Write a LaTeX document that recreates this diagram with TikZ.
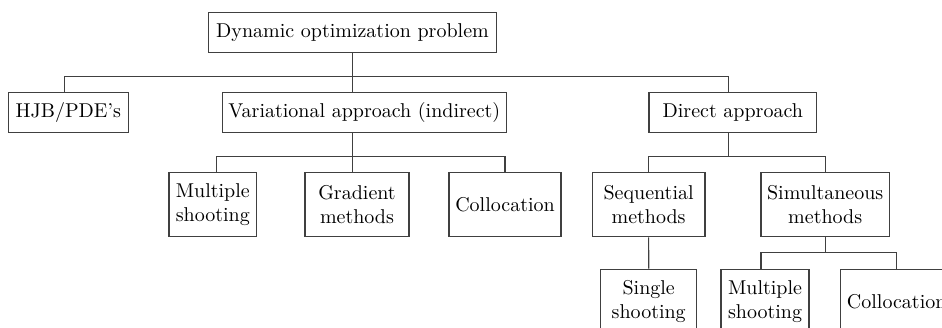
\documentclass[tikz,border=0pt]{standalone}
\usepackage{tikz}
\usetikzlibrary{
  calc,
  positioning
}

\begin{document}
\begin{tikzpicture}
  \tikzset{
    box/.style={
      draw=black!75,line width=0.6pt,align=center,inner sep=3pt,
      minimum height=20pt
    },
    tallbox/.style={
      box,minimum height=32pt
    },
    link/.style={
      draw=black!75,line width=0.6pt
    },
  }
  \useasboundingbox (0,0) rectangle (471pt,-163.5pt);
  \clip (0,0) rectangle (471pt,-163.5pt);

  % top
  \node[box,minimum width=144.2pt] (dop) at (176.25pt,-16.35pt)
  {Dynamic optimization problem};

  % first level
  \node[box,minimum width=60pt] (hjb) at (34.15pt,-56.35pt) {HJB/PDE's};
  \node[box,minimum width=140pt] (var) at (182.15pt,-56.35pt)
  {Variational approach (indirect)};
  \node[box,minimum width=83.85pt] (dir) at (366.4pt,-56.35pt)
  {Direct approach};

  % second level
  \node[tallbox,minimum width=43.85pt] (ms1) at (106.4pt,-102.35pt)
  {Multiple\\shooting};
  \node[tallbox,minimum width=52pt] (grad) at (178.5pt,-102.35pt)
  {Gradient\\methods};
  \node[tallbox,minimum width=56pt] (col1) at (252.5pt,-102.35pt)
  {Collocation};
  \node[tallbox,minimum width=56.35pt] (seq) at (324.3pt,-102.35pt)
  {Sequential\\methods};
  \node[tallbox,minimum width=64.15pt] (sim) at (412.6pt,-102.35pt)
  {Simultaneous\\methods};

  % third level
  \node[tallbox,minimum width=48pt] (ss) at (324.35pt,-150.65pt)
  {Single\\shooting};
  \node[tallbox,minimum width=44pt] (ms2) at (382.5pt,-150.65pt)
  {Multiple\\shooting};
  \node[tallbox,minimum width=56pt] (col2) at (448.35pt,-150.65pt)
  {Collocation};

  \coordinate (bus1) at (0,-38.35pt);
  \coordinate (bus2) at (0,-78.35pt);
  \coordinate (bus3) at (0,-126.35pt);
  \coordinate (hjbtop) at ([xshift=-2pt]hjb.north);
  \coordinate (dirtop) at ([xshift=-2.25pt]dir.north);
  \coordinate (dirbot) at ([xshift=-2.25pt]dir.south);
  \coordinate (ms1top) at ([xshift=2pt]ms1.north);
  \coordinate (ms2top) at ([xshift=-2pt]ms2.north);

  \draw[link] (dop.south) -- (dop.south |- var.north);
  \draw[link] (hjbtop) -- (hjbtop |- bus1) -- (dirtop |- bus1) -- (dirtop);

  \draw[link] (dop.south |- var.south) -- (dop.south |- grad.north);
  \draw[link] (ms1top) -- (ms1top |- bus2) -- (col1.north |- bus2)
  -- (col1.north);

  \draw[link] (dirbot) -- (dirbot |- bus2);
  \draw[link] (seq.north) -- (seq.north |- bus2) -- (sim.north |- bus2)
  -- (sim.north);

  \draw[link] (seq.south) -- (ss.north);
  \draw[link] (sim.south) -- (sim.south |- bus3);
  \draw[link] (ms2top) -- (ms2top |- bus3) -- (col2.north |- bus3)
  -- (col2.north);
\end{tikzpicture}
\end{document}
